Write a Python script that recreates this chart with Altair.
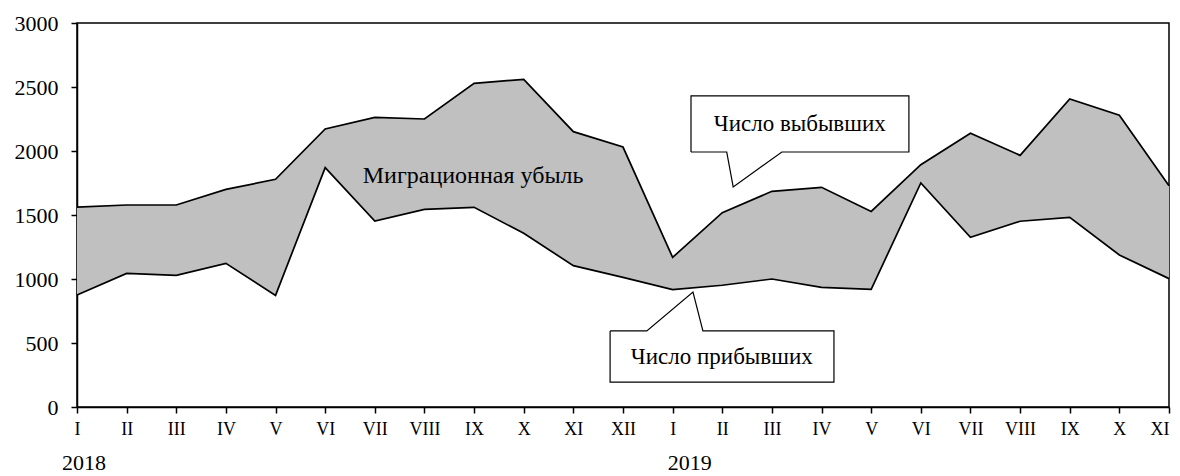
import altair as alt
import pandas as pd

months = ["I", "II", "III", "IV", "V", "VI", "VII", "VIII", "IX", "X", "XI", "XII",
          "I", "II", "III", "IV", "V", "VI", "VII", "VIII", "IX", "X", "XI"]
departed = [1562, 1578, 1578, 1700, 1779, 2172, 2263, 2250, 2529, 2560, 2151, 2031,
            1169, 1518, 1685, 1716, 1528, 1893, 2138, 1966, 2406, 2279, 1729]
arrived = [875, 1044, 1029, 1122, 872, 1870, 1453, 1544, 1560, 1357, 1104, 1013,
           917, 951, 1000, 935, 919, 1750, 1326, 1451, 1482, 1188, 1003]
years = ["2018", "2019"]
y_ticks = [0, 500, 1000, 1500, 2000, 2500, 3000]

FONT = "Liberation Serif"
df = pd.DataFrame({"i": list(range(len(months))), "departed": departed, "arrived": arrived})

last = len(months) - 1
label_expr = "[" + ",".join("'%s'" % m for m in months) + "][datum.value]"

xscale = alt.Scale(domain=[0, last], nice=False, zero=False)
yscale = alt.Scale(domain=[0, 3000], nice=False)

xaxis = alt.Axis(values=list(range(len(months))), labelExpr=label_expr, grid=False,
                 title=None, tickSize=6, tickColor="black", domainColor="black",
                 domainWidth=1.5, tickWidth=1.5, labelFont=FONT, labelFontSize=18,
                 labelColor="black", labelPadding=7, labelFlush=False, labelOverlap=False,
                 labelBound=False,
                 labelAlign=alt.ExprRef("datum.value == %d ? 'right' : 'center'" % last))
yaxis = alt.Axis(values=y_ticks, format="d", grid=False, title=None, tickSize=6,
                 tickColor="black", domainColor="black", domainWidth=1.5, tickWidth=1.5,
                 labelFont=FONT, labelFontSize=22, labelColor="black", labelPadding=13)

X = alt.X("i:Q", scale=xscale, axis=xaxis)

area = alt.Chart(df).mark_area(color="#c0c0c0", opacity=1).encode(
    x=X, y=alt.Y("departed:Q", scale=yscale, axis=yaxis), y2="arrived:Q")
line_dep = alt.Chart(df).mark_line(color="black", strokeWidth=1.7).encode(
    x=X, y=alt.Y("departed:Q", scale=yscale, axis=yaxis))
line_arr = alt.Chart(df).mark_line(color="black", strokeWidth=1.7).encode(
    x=X, y=alt.Y("arrived:Q", scale=yscale, axis=yaxis))

# callout outlines in data units
call_up = [(12.37, 1992), (13.09, 1992), (13.22, 1719), (14.20, 1992), (16.76, 1992),
           (16.76, 2430), (12.37, 2430), (12.37, 1992)]
call_lo = [(10.74, 594), (11.48, 594), (12.41, 898), (12.61, 594), (15.25, 594),
           (15.25, 195), (10.74, 195), (10.74, 594)]
rows = []
for g, pts in (("up", call_up), ("lo", call_lo)):
    for k, (xx, yy) in enumerate(pts):
        rows.append({"g": g, "o": k, "x": xx, "y": yy})
cdf = pd.DataFrame(rows)
boxes = pd.DataFrame({"x": [12.37, 10.74], "x2": [16.76, 15.25],
                      "y": [1992, 195], "y2": [2430, 594]})
box_fill = alt.Chart(boxes).mark_rect(color="white").encode(
    x=alt.X("x:Q", scale=xscale, axis=xaxis), x2="x2:Q",
    y=alt.Y("y:Q", scale=yscale, axis=yaxis), y2="y2:Q")
outline = alt.Chart(cdf).mark_line(color="black", strokeWidth=1.2).encode(
    x=alt.X("x:Q", scale=xscale, axis=xaxis), y=alt.Y("y:Q", scale=yscale, axis=yaxis),
    order="o:Q", detail="g:N")

texts = pd.DataFrame({"t": ["Число выбывших", "Число прибывших"],
                      "x": [14.56, 12.99], "y": [2211, 391]})
text_marks = alt.Chart(texts).mark_text(font=FONT, fontSize=23, color="black").encode(
    x=alt.X("x:Q", scale=xscale, axis=xaxis), y=alt.Y("y:Q", scale=yscale, axis=yaxis),
    text="t:N")
loss = pd.DataFrame({"t": ["Миграционная убыль"], "x": [7.98], "y": [1805]})
loss_mark = alt.Chart(loss).mark_text(font=FONT, fontSize=24, color="black").encode(
    x=alt.X("x:Q", scale=xscale, axis=xaxis), y=alt.Y("y:Q", scale=yscale, axis=yaxis),
    text="t:N")

ydf = pd.DataFrame({"t": years, "x": [-0.30, 11.90], "y": [-492, -492]})
year_marks = alt.Chart(ydf).mark_text(font=FONT, fontSize=22, color="black", align="left",
                                      baseline="alphabetic").encode(
    x=alt.X("x:Q", scale=xscale, axis=xaxis), y=alt.Y("y:Q", scale=yscale, axis=yaxis),
    text="t:N")

chart = alt.layer(area, line_dep, line_arr, box_fill, outline, text_marks, loss_mark,
                  year_marks).properties(
    width=1092, height=384, background="white",
    autosize=alt.AutoSizeParams(type="none"),
    padding={"left": 69, "top": 15, "right": 3, "bottom": 69},
).configure_view(stroke="black", strokeWidth=1.5)

chart.save("out.html", embed_options={"renderer": "svg", "actions": False})
